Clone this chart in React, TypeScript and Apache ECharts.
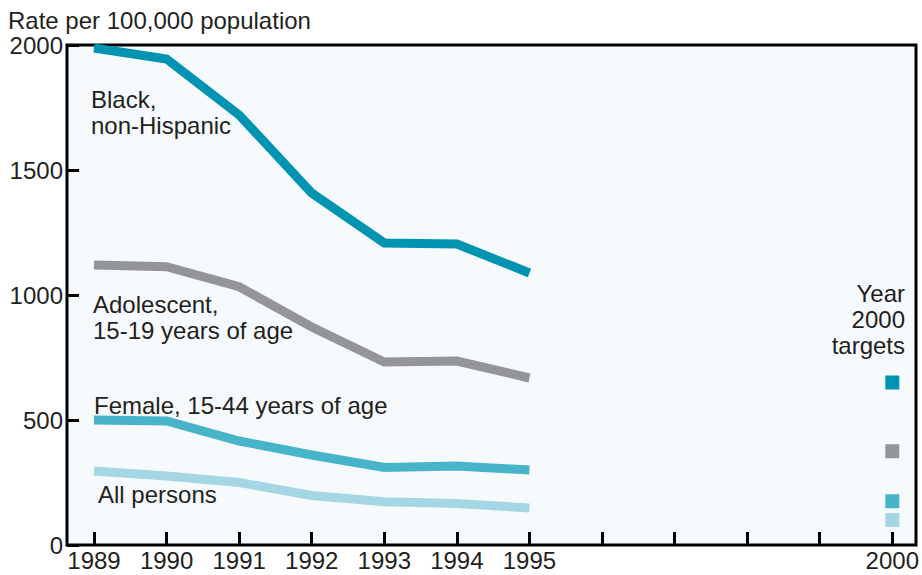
import React, { useEffect, useRef } from "react";
import * as echarts from "echarts";

const years = [1989, 1990, 1991, 1992, 1993, 1994, 1995];
const blackNonHispanic = [1988, 1944, 1720, 1408, 1208, 1204, 1088];
const adolescent = [1120, 1113, 1033, 872, 732, 736, 668];
const female = [500, 496, 416, 360, 310, 316, 300];
const allPersons = [296, 276, 250, 198, 173, 166, 148];
const targetYear = 2000;
const targets = [650, 375, 175, 100];
const xLabelYears = [1989, 1990, 1991, 1992, 1993, 1994, 1995, 2000];

const colors = ["#0093b2", "#939598", "#47b4ca", "#a4d6e3"];
const FONT = "Liberation Sans, Arial, Helvetica, sans-serif";
const TXT = "#231f20";
const FS = 24;
const LH = 26;

export default function App() {
  const ref = useRef<HTMLDivElement>(null);
  useEffect(() => {
    const chart = echarts.init(ref.current!, null, { renderer: "svg" });
    const seriesData = [blackNonHispanic, adolescent, female, allPersons];
    const lineSeries = seriesData.map((vals, i) => ({
      type: "line",
      xAxisIndex: 1,
      yAxisIndex: 1,
      symbol: "none",
      data: years.map((y, j) => [y, vals[j]]),
      lineStyle: { color: colors[i], width: 9, cap: "butt", join: "miter" },
      z: 3,
    }));
    const text = (t: string, x: number, y: number, align = "left", vAlign = "middle") => ({
      type: "text",
      x,
      y,
      style: {
        text: t,
        fill: TXT,
        font: `${FS}px ${FONT}`,
        lineHeight: LH,
        align,
        verticalAlign: vAlign,
      },
      z: 10,
    });
    chart.setOption({
      animation: false,
      backgroundColor: "#ffffff",
      grid: [
        {
          left: 67,
          right: 6,
          top: 45,
          bottom: 30,
          show: true,
          backgroundColor: "#f7fafd",
          borderColor: "#000000",
          borderWidth: 3,
          z: 0,
        },
        { left: 94, right: 29, top: 45, bottom: 30 },
      ],
      xAxis: [
        {
          gridIndex: 0,
          type: "value",
          min: 1988,
          max: 2001,
          show: false,
        },
        {
          gridIndex: 1,
          type: "value",
          min: 1989,
          max: 2000,
          interval: 1,
          axisLine: { show: false },
          splitLine: { show: false },
          axisTick: { show: true, inside: true, length: 13, lineStyle: { color: "#000", width: 3 } },
          axisLabel: {
            margin: 3,
            color: TXT,
            fontFamily: FONT,
            fontSize: FS,
            showMinLabel: true,
            showMaxLabel: true,
            formatter: (v: number) => (xLabelYears.includes(v) ? String(v) : ""),
          },
        },
      ],
      yAxis: [
        {
          gridIndex: 0,
          type: "value",
          min: 0,
          max: 2000,
          interval: 500,
          axisLine: { show: false },
          splitLine: { show: false },
          axisTick: { show: true, inside: true, length: 12, lineStyle: { color: "#000", width: 3 } },
          axisLabel: {
            margin: 4,
            color: TXT,
            fontFamily: FONT,
            fontSize: FS,
            showMinLabel: true,
            showMaxLabel: true,
            formatter: (v: number) => String(v),
          },
        },
        {
          gridIndex: 1,
          type: "value",
          min: 0,
          max: 2000,
          show: false,
        },
      ],
      series: [
        ...lineSeries,
        {
          type: "scatter",
          xAxisIndex: 1,
          yAxisIndex: 1,
          symbol: "rect",
          symbolSize: 14,
          data: targets.map((v, i) => ({ value: [targetYear, v], itemStyle: { color: colors[i], opacity: 1 } })),
          itemStyle: { opacity: 1 },
          z: 4,
        },
      ],
      graphic: [
        text("Rate per 100,000 population", 8, 20),
        text("Black,\nnon-Hispanic", 91, 86, "left", "top"),
        text("Adolescent,\n15-19 years of age", 93, 291, "left", "top"),
        text("Female, 15-44 years of age", 94, 405),
        text("All persons", 98, 494),
        text("Year\n2000\ntargets", 905, 280, "right", "top"),
      ],
    });
    return () => chart.dispose();
  }, []);
  return (
    <div
      ref={ref}
      style={{ position: "fixed", left: 0, top: 0, width: 922, height: 575 }}
    />
  );
}
